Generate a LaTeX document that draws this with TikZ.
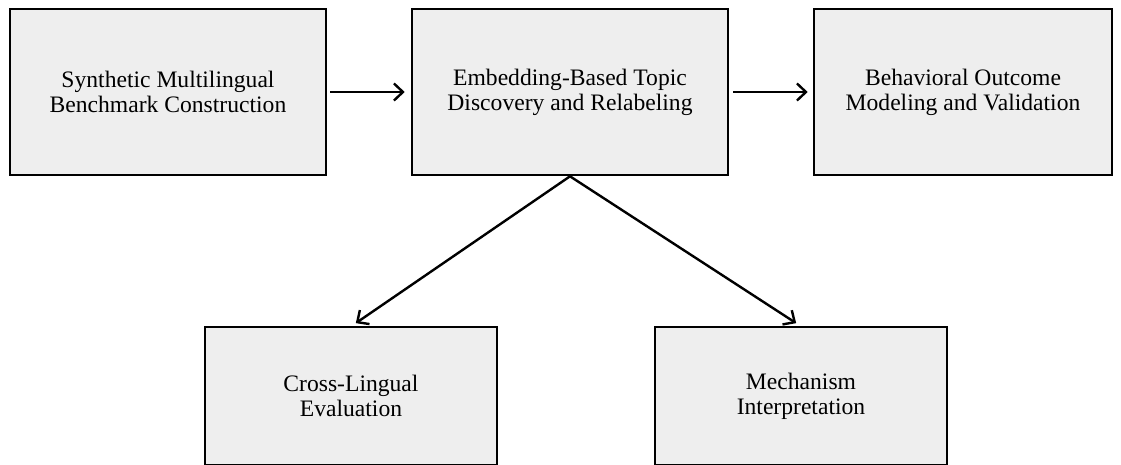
\documentclass[tikz,border=0pt]{standalone}
\usepackage{fontspec}
\setmainfont{Liberation Serif}
\usetikzlibrary{arrows.meta,calc}
\begin{document}
\begin{tikzpicture}[x=1pt,y=-1pt,
  box/.style={draw=black,line width=2.6pt,fill=boxfill,inner sep=0pt,align=center,
    font=\fontsize{23.6}{25}\selectfont},
  conn/.style={line width=2.4pt,-{Straight Barb[length=9pt,width=17pt,line width=2.4pt]},shorten >=1pt}]
\definecolor{boxfill}{HTML}{EEEEEE}
\useasboundingbox (0,0) rectangle (1121,464);
\clip (0,0) rectangle (1121,464);
\node[box,minimum width=316pt,minimum height=166pt] (b1) at (168,92) {Synthetic Multilingual\\Benchmark Construction};
\node[box,minimum width=316pt,minimum height=166pt] (b2) at (570,92) {Embedding-Based Topic\\Discovery and Relabeling};
\node[box,minimum width=298pt,minimum height=166pt] (b3) at (963,92) {Behavioral Outcome\\Modeling and Validation};
\node[box,minimum width=292pt,minimum height=138pt] (b4) at (351,396) {Cross-Lingual\\Evaluation};
\node[box,minimum width=292pt,minimum height=138pt] (b5) at (801,396) {Mechanism\\Interpretation};
\draw[conn,shorten <=3pt,shorten >=6pt] (b1.east) -- (b2.west);
\draw[conn,shorten <=4pt,shorten >=5pt] (b2.east) -- (b3.west);
\coordinate (t4) at ($(b4.north)+(4,-2)$);
\coordinate (t5) at ($(b5.north)+(-4,-2)$);
\draw[conn] (b2.south) -- (t4);
\draw[conn] (b2.south) -- (t5);
\end{tikzpicture}
\end{document}
